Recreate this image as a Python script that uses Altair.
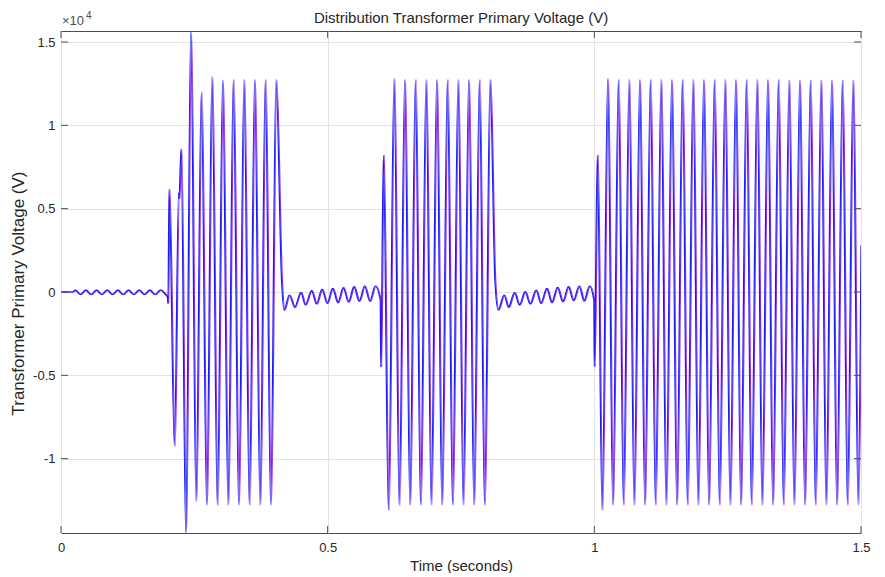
import altair as alt
import pandas as pd

# ---- data (time in s, voltage in V) ----
quiet_t = [0.000, 0.022, 0.026, 0.036, 0.046, 0.056, 0.066, 0.076, 0.086, 0.096, 0.106,
           0.116, 0.126, 0.136, 0.146, 0.156, 0.166, 0.176, 0.186, 0.196, 0.1995, 0.2005]
quiet_v = [0, 0, 110, -150, 110, -150, 110, -150, 110, -150, 110,
           -150, 110, -150, 110, -150, 110, -150, 110, -160, -300, -700]

burst1_t = [0.2025, 0.2125, 0.2205, 0.2212, 0.2250, 0.2338, 0.2432, 0.2530, 0.2630, 0.2730,
            0.2830, 0.2930, 0.3030, 0.3130, 0.3230, 0.3330, 0.3430, 0.3530, 0.3630, 0.3730,
            0.3830, 0.3930, 0.4030]
burst1_v = [6180, -9240, 5950, 5600, 8580, -14450, 15650, -12550, 12000, -12780,
            12920, -12800, 12720, -12780, 12750, -12780, 12750, -12780, 12750, -12780,
            12750, -12780, 12750]

ring1_t = [0.4135, 0.4180, 0.4280, 0.4380, 0.4495, 0.4580, 0.4695, 0.4790, 0.4890, 0.4990,
           0.5090, 0.5190, 0.5290, 0.5390, 0.5490, 0.5590, 0.5690, 0.5790, 0.5890, 0.5985]
ring1_v = [700, -1100, -180, -920, -20, -780, 80, -720, 160, -680,
           220, -640, 260, -600, 320, -560, 360, -560, 360, -480]

burst2_t = [0.5995, 0.6044, 0.6138, 0.6244, 0.6340, 0.6444, 0.6540, 0.6644, 0.6740, 0.6844,
            0.6940, 0.7044, 0.7140, 0.7244, 0.7340, 0.7444, 0.7540, 0.7644, 0.7740, 0.7844,
            0.7940, 0.8044]
burst2_v = [-4500, 8220, -13100, 12820, -12800, 12750, -12780, 12750, -12780, 12750,
            -12780, 12750, -12780, 12750, -12780, 12750, -12780, 12750, -12780, 12750,
            -12780, 12750]

ring2_t = [0.8135, 0.8195, 0.8306, 0.8388, 0.8500, 0.8594, 0.8700, 0.8794, 0.8906, 0.8995,
           0.9107, 0.9200, 0.9306, 0.9407, 0.9512, 0.9606, 0.9713, 0.9806, 0.9906, 0.9990]
ring2_v = [700, -1080, -180, -920, -40, -780, 20, -720, 120, -680,
           220, -640, 280, -580, 320, -520, 360, -540, 360, -500]

burst3_t = [0.9998, 1.0056, 1.0144, 1.0250, 1.0344, 1.0450, 1.0544, 1.0650, 1.0744, 1.0850,
            1.0944, 1.1050, 1.1144, 1.1250, 1.1344, 1.1450, 1.1544, 1.1650, 1.1744, 1.1850,
            1.1944, 1.2050, 1.2144, 1.2250, 1.2344, 1.2450, 1.2544, 1.2650, 1.2744, 1.2850,
            1.2944, 1.3050, 1.3144, 1.3250, 1.3344, 1.3450, 1.3544, 1.3650, 1.3744, 1.3850,
            1.3944, 1.4050, 1.4144, 1.4250, 1.4344, 1.4450, 1.4544, 1.4650, 1.4744, 1.4850,
            1.4944, 1.5000]
burst3_v = [-4480, 8220, -13080, 12800, -12780, 12750, -12780, 12750, -12780, 12750,
            -12780, 12750, -12780, 12750, -12780, 12750, -12780, 12750, -12780, 12750,
            -12780, 12750, -12780, 12750, -12780, 12750, -12780, 12750, -12780, 12750,
            -12780, 12750, -12780, 12750, -12780, 12750, -12780, 12720, -12780, 12720,
            -12780, 12720, -12780, 12720, -12780, 12720, -12780, 12720, -12780, 12720,
            -12780, 2800]

x_ticks = [0, 0.5, 1, 1.5]
y_ticks = [-10000, -5000, 0, 5000, 10000, 15000]

chart_title = ["Distribution Transformer Primary Voltage (V)"]
exp_text = ["×10"]
exp_power = ["4"]

t_all = quiet_t + burst1_t + ring1_t + burst2_t + ring2_t + burst3_t
v_all = quiet_v + burst1_v + ring1_v + burst2_v + ring2_v + burst3_v
df = pd.DataFrame({"t": t_all, "v": v_all})

W, H = 800, 502
FONT = "Liberation Sans"
TXT = "#262626"

xs = alt.Scale(domain=[0, 1.5], nice=False, zero=False)
ys = alt.Scale(domain=[-14460, 15660], nice=False, zero=False)

x_axis = alt.Axis(values=x_ticks, labelExpr="'' + datum.value", title="Time (seconds)",
                  grid=True, ticks=False, domain=False, labelPadding=8, labelFlush=False,
                  titleBaseline="alphabetic", titleY=37, titleFontSize=15)
y_axis = alt.Axis(values=y_ticks, labelExpr="'' + datum.value / 10000",
                  title="Transformer Primary Voltage (V)", labelFlush=False,
                  grid=True, ticks=False, domain=False, labelPadding=6, titlePadding=5,
                  titleFontSize=17, titleY=262)

X = lambda f: alt.X(f, scale=xs, axis=x_axis)
Y = lambda f: alt.Y(f, scale=ys, axis=y_axis)

purple = alt.Chart(df).mark_line(interpolate="monotone", color="#9232f0", strokeWidth=1.2,
                                 clip=True, xOffset=0.9).encode(
    x=X("t:Q"), y=Y("v:Q"), order="t:Q")
blue = alt.Chart(df).mark_line(interpolate="monotone", color="#1c1cf5", strokeWidth=1.2,
                               clip=True).encode(
    x=X("t:Q"), y=Y("v:Q"), order="t:Q")

xt = pd.DataFrame({"xt": x_ticks})
yt = pd.DataFrame({"yt": y_ticks})
TC = "#4d4d4d"
tick_b = alt.Chart(xt).mark_rule(color=TC).encode(
    x=X("xt:Q"), y=alt.value(H), y2=alt.value(H - 7))
tick_t = alt.Chart(xt).mark_rule(color=TC).encode(
    x=X("xt:Q"), y=alt.value(0), y2=alt.value(7))
tick_l = alt.Chart(yt).mark_rule(color=TC).encode(
    y=Y("yt:Q"), x=alt.value(0), x2=alt.value(7))
tick_r = alt.Chart(yt).mark_rule(color=TC).encode(
    y=Y("yt:Q"), x=alt.value(W), x2=alt.value(W - 7))

title_mark = alt.Chart(pd.DataFrame({"s": chart_title})).mark_text(
    align="center", baseline="alphabetic", font=FONT, fontSize=15, color=TXT).encode(
    text="s:N", x=alt.value(W / 2), y=alt.value(-8))
exp_base = alt.Chart(pd.DataFrame({"s": exp_text})).mark_text(
    align="left", baseline="alphabetic", font=FONT, fontSize=13, color=TC).encode(
    text="s:N", x=alt.value(1), y=alt.value(-6))
exp_pow = alt.Chart(pd.DataFrame({"s": exp_power})).mark_text(
    align="left", baseline="alphabetic", font=FONT, fontSize=10, color=TC).encode(
    text="s:N", x=alt.value(25), y=alt.value(-12))

chart = alt.layer(purple, blue, tick_b, tick_t, tick_l, tick_r,
                  title_mark, exp_base, exp_pow).properties(
    width=W, height=H,
    autosize=alt.AutoSizeParams(type="none"),
    padding={"left": 53, "top": 23, "right": 16, "bottom": 40},
).configure_view(
    stroke="#4d4d4d", strokeWidth=1
).configure_axis(
    gridColor="#e3e3e3", gridWidth=1,
    labelFont=FONT, labelFontSize=13, labelColor=TXT,
    titleFont=FONT, titleFontWeight="normal", titleColor=TXT,
)

chart.save("out.html", embed_options={"renderer": "svg", "actions": False})
